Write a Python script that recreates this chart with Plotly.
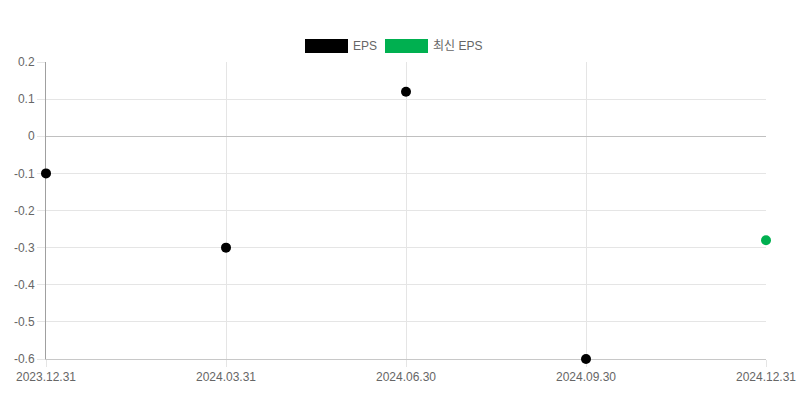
import plotly.graph_objects as go

# quarter labels and EPS values
quarters = ["2023.12.31", "2024.03.31", "2024.06.30", "2024.09.30", "2024.12.31"]
eps = [-0.1, -0.3, 0.12, -0.6, None]
latest_eps = [None, None, None, None, -0.28]
y_ticks = [0.2, 0.1, 0, -0.1, -0.2, -0.3, -0.4, -0.5, -0.6]

BLACK = "#000000"
GREEN = "#00b050"
FONT = "Liberation Sans, Arial, Noto Sans CJK KR, sans-serif"

W, H = 800, 400
L, R, T, B = 46, 34, 62, 41
pw, ph = W - L - R, H - T - B


def px_x(x):
    return (x - L) / pw


def px_y(y):
    return (H - B - y) / ph


fig = go.Figure()
fig.add_trace(go.Scatter(x=list(range(len(quarters))), y=eps, mode="markers", name="EPS",
                         marker=dict(color=BLACK, size=10), showlegend=False))
fig.add_trace(go.Scatter(x=list(range(len(quarters))), y=latest_eps, mode="markers", name="최신 EPS",
                         marker=dict(color=GREEN, size=10), showlegend=False))

# legend drawn by hand (wide colour boxes like the original)
legend_items = [("EPS", BLACK, 305), ("최신 EPS", GREEN, 385)]
shapes = []
annotations = []
for label, color, x0 in legend_items:
    shapes.append(dict(type="rect", xref="paper", yref="paper",
                       x0=px_x(x0), x1=px_x(x0 + 43), y0=px_y(53), y1=px_y(39),
                       fillcolor=color, line=dict(width=0)))
    annotations.append(dict(text=label, xref="paper", yref="paper", x=px_x(x0 + 46), y=px_y(46),
                            xanchor="left", yanchor="middle", showarrow=False,
                            font=dict(size=12, color="#666666", family=FONT)))

fig.update_layout(
    width=W, height=H,
    margin=dict(l=L, r=R, t=T, b=B),
    plot_bgcolor="white", paper_bgcolor="white",
    font=dict(family=FONT, size=12, color="#666666"),
    shapes=shapes, annotations=annotations,
    xaxis=dict(range=[0, len(quarters) - 1], tickvals=list(range(len(quarters))), ticktext=quarters,
               showgrid=True, gridcolor="#e5e5e5", zeroline=False, layer="below traces",
               automargin=False,
               showline=True, linecolor="#c8c8c8", ticks="outside", ticklen=7, tickcolor="#e5e5e5"),
    yaxis=dict(range=[-0.6, 0.2], tickvals=y_ticks, ticktext=[str(v) for v in y_ticks],
               showgrid=True, gridcolor="#e5e5e5", zeroline=True, zerolinecolor="#c0c0c0",
               zerolinewidth=1, layer="below traces", automargin=False,
               showline=True, linecolor="#a0a0a0", ticks="outside", ticklen=8, tickcolor="#e5e5e5"),
)
fig.update_traces(cliponaxis=False)

fig.write_html("out.html", config={"displayModeBar": False},
               post_script="document.body.style.margin='0';")
